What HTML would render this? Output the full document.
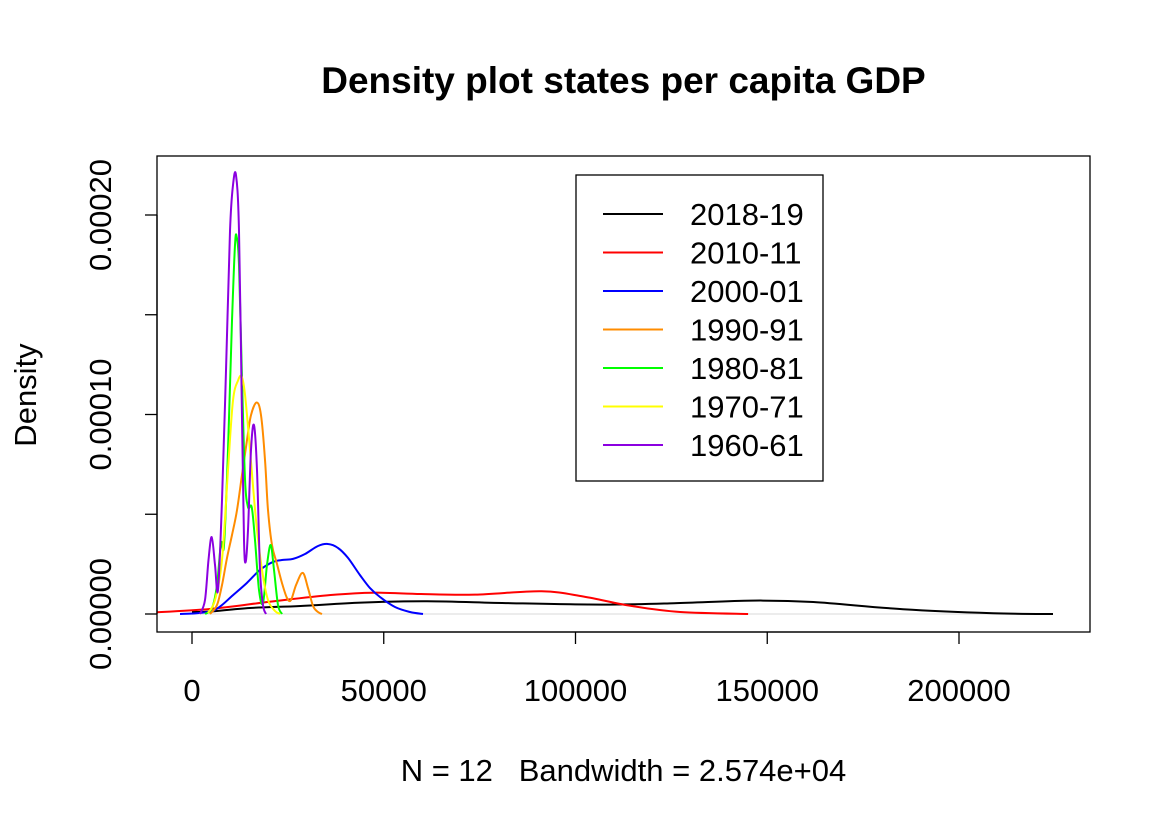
<!DOCTYPE html>
<html><head><meta charset="utf-8"><style>
body{margin:0;background:#fff;}
svg text{font-family:"Liberation Sans",Arial,sans-serif;}
</style></head><body>
<svg id="chart" width="1172" height="828" viewBox="0 0 1172 828" xmlns="http://www.w3.org/2000/svg">
<defs><clipPath id="plotclip"><rect x="157" y="156" width="933" height="476"/></clipPath></defs>
<rect width="1172" height="828" fill="#fff"/>
<text x="623.5" y="93" text-anchor="middle" font-size="37" font-weight="bold">Density plot states per capita GDP</text>
<text x="623.5" y="781" text-anchor="middle" font-size="31" xml:space="preserve" style="white-space:pre">N = 12   Bandwidth = 2.574e+04</text>
<text transform="translate(36,395) rotate(-90)" text-anchor="middle" font-size="31">Density</text>
<g id="axes"></g>
<g id="series" clip-path="url(#plotclip)"></g>
<rect x="157" y="156" width="933" height="476" fill="none" stroke="#000" stroke-width="1.3"/>
<g id="legend"></g>
</svg>
<script>
const xTicks=[0,50000,100000,150000,200000];
const xTickLabels=["0","50000","100000","150000","200000"];
const yTicks=[0,0.00005,0.0001,0.00015,0.0002];
const yTickLabels=["0.00000","","0.00010","","0.00020"];
const seriesNames=["2018-19","2010-11","2000-01","1990-91","1980-81","1970-71","1960-61"];
const seriesColors=["#000000","#ff0000","#0000ff","#ff8c00","#00ff00","#ffff00","#8b00e0"];
// density values in units of 1e-5
const x1819=[0,4690,15130,28320,44070,61290,83330,106900,125700,146000,162000,185400,208900,224500];
const d1819=[0.10,0.12,0.30,0.40,0.57,0.64,0.54,0.47,0.54,0.67,0.60,0.24,0.04,0];
const x1011=[-10950,4690,20470,36170,47200,59720,73800,91170,102200,114700,127300,145000];
const d1011=[0.07,0.25,0.62,0.95,1.07,1.00,0.97,1.14,0.87,0.40,0.10,0];
const x0001=[-3130,780,3390,5480,7820,10430,14270,17740,21120,23730,26340,29470,32860,35470,38080,40680,43810,46420,49030,52940,56850,60240];
const d0001=[0,0.03,0.08,0.15,0.45,0.90,1.55,2.21,2.61,2.71,2.76,3.01,3.41,3.51,3.31,2.81,1.95,1.30,0.85,0.35,0.10,0];
const x9091=[4690,6520,7820,9130,10430,11740,13040,14340,15390,16870,18000,19040,19820,20860,22090,23470,24780,25820,27120,28870,30250,31560,32860,33900];
const d9091=[0,0.45,1.45,2.81,3.96,5.21,6.97,8.72,9.97,10.6,9.97,7.72,5.21,3.46,2.56,1.55,0.80,0.70,1.45,2.06,1.30,0.40,0.10,0];
const x8081=[3390,5220,6520,7560,8350,9390,10430,11210,11660,12260,13040,13820,14600,15570,16430,17480,18520,19560,20530,21380,22430,23470];
const d8081=[0,0.30,1.45,3.56,3.46,8.22,14.7,18.5,18.9,17.5,11.8,6.77,5.36,5.36,3.71,1.20,0.55,2.46,3.46,2.21,0.45,0];
const x7071=[4170,6000,7820,9390,10690,11990,12960,13820,15130,16690,18260,19820,21650,22950];
const d7071=[0.05,0.70,2.71,7.22,10.7,11.7,11.9,11.0,8.22,4.71,2.21,0.70,0.15,0];
const x6061=[2090,3390,4300,5140,6000,6780,7820,8870,9910,10690,11480,12260,13040,13560,14000,14600,15390,16170,16950,17740,18520,19300];
const d6061=[0,0.70,2.71,3.86,2.46,1.20,5.71,12.2,19.2,21.5,22.0,19.2,9.77,3.71,2.61,4.21,8.22,9.47,7.22,2.21,0.45,0];
const seriesX=[x1819,x1011,x0001,x9091,x8081,x7071,x6061];
const seriesD=[d1819,d1011,d0001,d9091,d8081,d7071,d6061];

const NS="http://www.w3.org/2000/svg";
const X=v=>192+v*0.003835;
const Y=d=>614-d*1995000;
const Yu=d=>Y(d*1e-5);
function mk(tag,attrs,parent){const e=document.createElementNS(NS,tag);for(const k in attrs)e.setAttribute(k,attrs[k]);parent.appendChild(e);return e;}
const axes=document.getElementById('axes');
const xa=mk('line',{x1:X(xTicks[0]),x2:X(xTicks[xTicks.length-1]),y1:632,y2:632,stroke:'#000','stroke-width':1.3},axes);


xTicks.forEach((t,i)=>{
  const l=mk('line',{x1:X(t),x2:X(t),y1:632,y2:644,stroke:'#000','stroke-width':1.3},axes);
  
  
  const tx=mk('text',{x:X(t),y:701,'text-anchor':'middle','font-size':31},axes);
  
  
  tx.textContent=xTickLabels[i];
});
const ya=mk('line',{x1:157,x2:157,y1:Y(yTicks[0]),y2:Y(yTicks[yTicks.length-1]),stroke:'#000','stroke-width':1.3},axes);


yTicks.forEach((t,i)=>{
  const l=mk('line',{x1:145,x2:157,y1:Y(t),y2:Y(t),stroke:'#000','stroke-width':1.3},axes);
  
  
  if(yTickLabels[i]){
    const tx=mk('text',{transform:`translate(111,${Y(t)}) rotate(-90)`,'text-anchor':'middle','font-size':31},axes);
    
    
    tx.textContent=yTickLabels[i];
  }
});
function pathFrom(pts){
  let d=`M${pts[0][0]},${pts[0][1]}`;
  for(let i=0;i<pts.length-1;i++){
    const p0=pts[i-1]||pts[i],p1=pts[i],p2=pts[i+1],p3=pts[i+2]||p2;
    const c1=[p1[0]+(p2[0]-p0[0])/6,p1[1]+(p2[1]-p0[1])/6];
    const c2=[p2[0]-(p3[0]-p1[0])/6,p2[1]-(p3[1]-p1[1])/6];
    d+=`C${c1[0].toFixed(1)},${c1[1].toFixed(1)} ${c2[0].toFixed(1)},${c2[1].toFixed(1)} ${p2[0].toFixed(1)},${p2[1].toFixed(1)}`;
  }
  return d;
}
const sg=document.getElementById('series');
const bl=mk('line',{x1:X(x1819[0]),x2:X(x1819[x1819.length-1]),y1:Y(0),y2:Y(0),stroke:'#e6e6e6','stroke-width':1.5},sg);


seriesX.forEach((xs,s)=>{
  const pts=xs.map((v,i)=>[X(v),Yu(seriesD[s][i])]);
  const p=mk('path',{d:pathFrom(pts),fill:'none',stroke:seriesColors[s],'stroke-width':2},sg);
  
  
});
const lg=document.getElementById('legend');
const lb=mk('rect',{x:576,y:175,width:247,height:306,fill:'#fff',stroke:'#000','stroke-width':1.3},lg);


seriesNames.forEach((n,i)=>{
  const y=214+i*38.5;
  const l=mk('line',{x1:603,x2:663,y1:y,y2:y,stroke:seriesColors[i],'stroke-width':2},lg);
  
  
  const t=mk('text',{x:690,y:y+11,'font-size':31},lg);
  
  
  t.textContent=n;
});
</script>
</body></html>
